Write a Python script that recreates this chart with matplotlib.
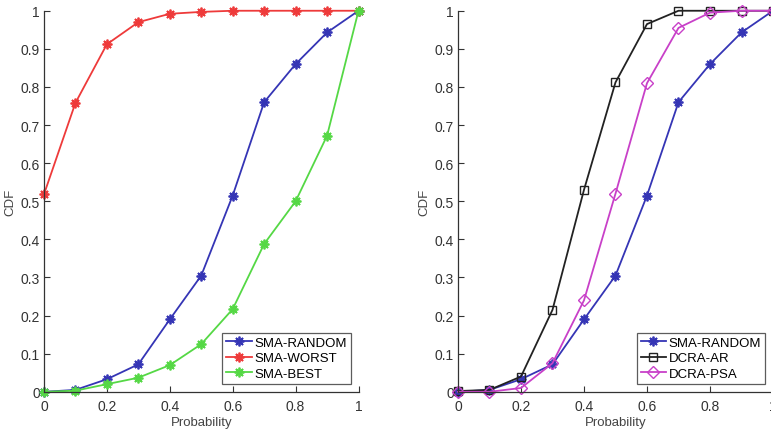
import numpy as np
import matplotlib
matplotlib.use('Agg')
import matplotlib.pyplot as plt

plt.rcParams['font.family'] = ['Liberation Sans', 'DejaVu Sans']

prob = [0, 0.1, 0.2, 0.3, 0.4, 0.5, 0.6, 0.7, 0.8, 0.9, 1.0]

sma_random = [0, 0.005, 0.033, 0.072, 0.19, 0.305, 0.515, 0.76, 0.86, 0.943, 1.0]
sma_worst = [0.518, 0.758, 0.912, 0.97, 0.992, 0.997, 1, 1, 1, 1, 1]
sma_best = [0, 0.003, 0.02, 0.037, 0.07, 0.125, 0.217, 0.388, 0.5, 0.672, 1.0]
dcra_ar = [0.002, 0.005, 0.04, 0.215, 0.53, 0.812, 0.965, 1, 1, 1, 1]
dcra_psa = [0, 0, 0.01, 0.075, 0.24, 0.52, 0.81, 0.955, 0.995, 1, 1]

blue = '#3535b5'
red = '#ee3a3a'
green = '#55d845'
black = '#222222'
magenta = '#c840c8'
star = (8, 2, 0)

fig = plt.figure(figsize=(7.71, 4.35), dpi=100)
ax1 = fig.add_axes([0.057, 0.097, 0.408, 0.876])
ax2 = fig.add_axes([0.594, 0.097, 0.4086, 0.876])


def style_axes(ax):
    ax.set_xlim(0, 1)
    ax.set_ylim(0, 1)
    ax.set_xticks([0, 0.2, 0.4, 0.6, 0.8, 1])
    ax.set_xticklabels(['0', '0.2', '0.4', '0.6', '0.8', '1'])
    ax.set_yticks(np.arange(0, 1.01, 0.1))
    ax.set_yticklabels(['0', '0.1', '0.2', '0.3', '0.4', '0.5', '0.6', '0.7', '0.8', '0.9', '1'])
    ax.tick_params(direction='in', labelsize=10, colors='#333333', length=4, width=0.8)
    ax.tick_params(axis='x', pad=5)
    ax.tick_params(axis='y', pad=3)
    for s in ['top', 'right']:
        ax.spines[s].set_visible(False)
    for s in ['left', 'bottom']:
        ax.spines[s].set_color('#333333')
        ax.spines[s].set_linewidth(0.9)
    ax.set_xlabel('Probability', fontsize=9.5, color='#444444', labelpad=2)
    ax.set_ylabel('CDF', fontsize=9.5, color='#444444', labelpad=3)


ax1.plot(prob, sma_random, color=blue, marker=star, ms=7, mew=1.3, lw=1.3, label='SMA-RANDOM', clip_on=False)
ax1.plot(prob, sma_worst, color=red, marker=star, ms=7, mew=1.3, lw=1.3, label='SMA-WORST', clip_on=False)
ax1.plot(prob, sma_best, color=green, marker=star, ms=7, mew=1.3, lw=1.3, label='SMA-BEST', clip_on=False)
style_axes(ax1)
leg1 = ax1.legend(loc='lower right', fontsize=9.5, frameon=True, fancybox=False,
                  edgecolor='#333333', handlelength=1.9, handletextpad=0.2,
                  borderpad=0.3, labelspacing=0.25, borderaxespad=0.6)
leg1.get_frame().set_linewidth(0.9)

ax2.plot(prob, sma_random, color=blue, marker=star, ms=7, mew=1.3, lw=1.3, label='SMA-RANDOM', clip_on=False)
ax2.plot(prob, dcra_ar, color=black, marker='s', ms=5.5, mfc='none', lw=1.3, label='DCRA-AR', clip_on=False)
ax2.plot(prob, dcra_psa, color=magenta, marker='D', ms=6, mfc='none', lw=1.3, label='DCRA-PSA', clip_on=False)
style_axes(ax2)
leg2 = ax2.legend(loc='lower right', fontsize=9.5, frameon=True, fancybox=False,
                  edgecolor='#333333', handlelength=1.9, handletextpad=0.2,
                  borderpad=0.3, labelspacing=0.25, borderaxespad=0.6)
leg2.get_frame().set_linewidth(0.9)

fig.savefig('out.png', dpi=100)
